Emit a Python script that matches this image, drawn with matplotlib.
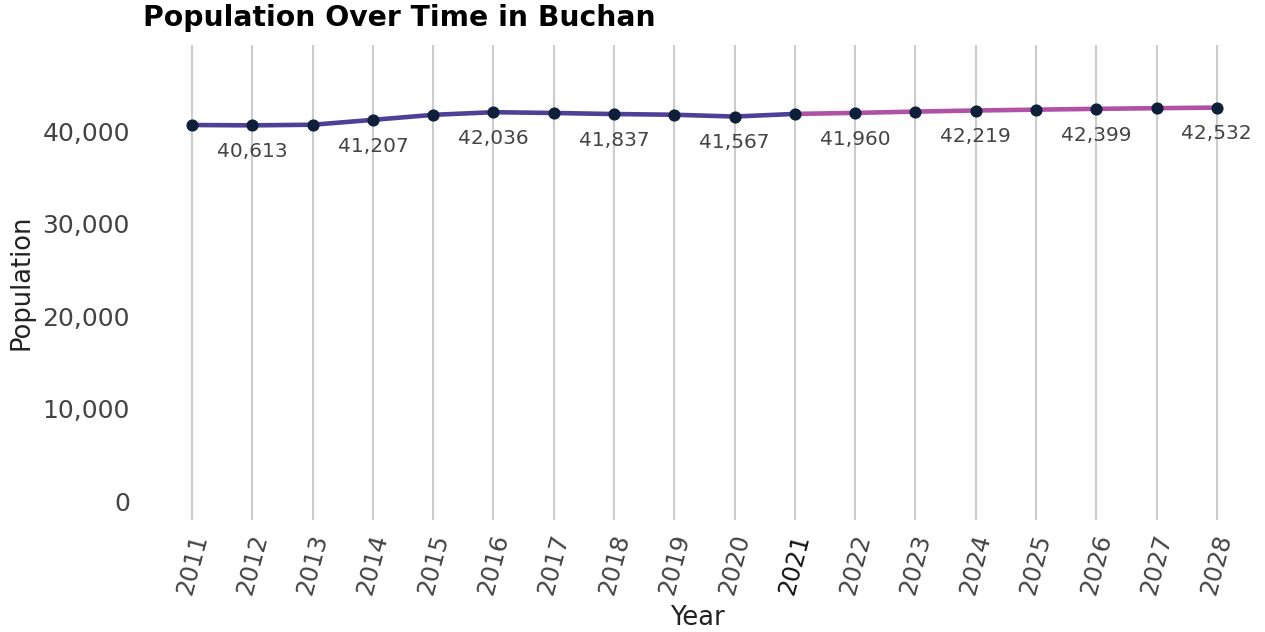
import numpy as np
import matplotlib
matplotlib.use("Agg")
import matplotlib.pyplot as plt

#%% data
hist_years = [2011, 2012, 2013, 2014, 2015, 2016, 2017, 2018, 2019, 2020, 2021]
hist_pop = [40650, 40613, 40680, 41207, 41750, 42036, 41950, 41837, 41760, 41567, 41850]

fc_years = [2021, 2022, 2023, 2024, 2025, 2026, 2027, 2028]
fc_pop = [41850, 41960, 42100, 42219, 42310, 42399, 42470, 42532]

label_years = [2012, 2014, 2016, 2018, 2020, 2022, 2024, 2026, 2028]
label_vals = [40613, 41207, 42036, 41837, 41567, 41960, 42219, 42399, 42532]

y_ticks = [0, 10000, 20000, 30000, 40000]

#%% plot
fig = plt.figure(figsize=(12.65, 6.32), dpi=100)
ax = fig.add_axes([130 / 1265, 1 - 520 / 632, (1265 - 130) / 1265, (520 - 45) / 632])

ax.plot(hist_years, hist_pop, color="#3f2f8e", lw=3.3, alpha=0.92, zorder=2)
ax.plot(fc_years, fc_pop, color="#a8439f", lw=3.3, alpha=0.92, zorder=2)
ax.scatter(hist_years + fc_years[1:], hist_pop + fc_pop[1:], s=60, color="#0e1f3a", zorder=3)

for yr, v in zip(label_years, label_vals):
    ax.annotate(f"{v:,}", (yr, v), xytext=(0, -19), textcoords="offset points",
                ha="center", va="center", fontsize=14.5, color="#444444")

years = sorted(set(hist_years + fc_years))
ax.set_xticks(years)
ax.set_xticklabels([str(y) for y in years], rotation=75, fontsize=17.5, color="#444444")
ax.get_xticklabels()[years.index(2021)].set_color("#111111")
ax.set_yticks(y_ticks)
ax.set_yticklabels([f"{t:,}" for t in y_ticks], fontsize=18, color="#444444")
ax.tick_params(axis="y", length=0, pad=0)
ax.tick_params(axis="x", length=0, pad=8)

ax.set_xlim(2009.97, 2028.8)
ax.set_ylim(-2050, 49300)

ax.grid(axis="x", color="#cccccc", lw=1.5)
ax.set_axisbelow(True)
for s in ax.spines.values():
    s.set_visible(False)

ax.set_xlabel("Year", fontsize=18.5, color="#222222", labelpad=6)
ax.set_ylabel("Population", fontsize=18.5, color="#222222", labelpad=6)
fig.text(143 / 1265, 1 - 18 / 632, "Population Over Time in Buchan", fontsize=20.3,
         fontweight="bold", va="center", ha="left")

fig.savefig("out.png", dpi=100)
